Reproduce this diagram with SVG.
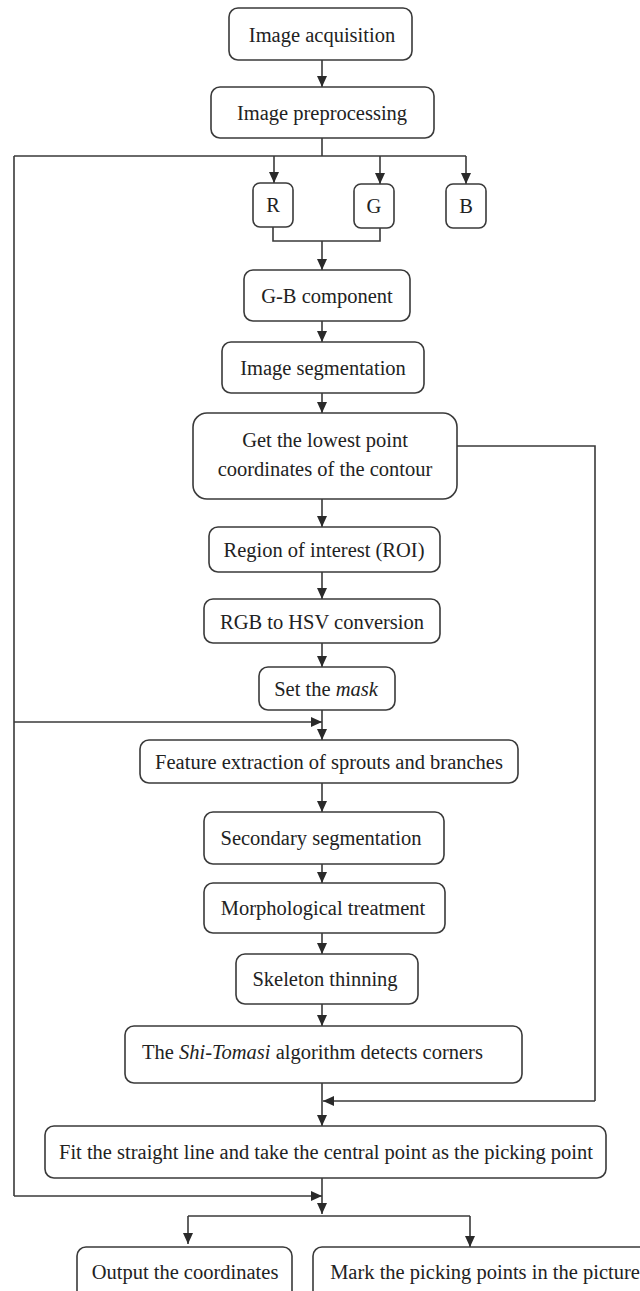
<svg xmlns="http://www.w3.org/2000/svg" width="640" height="1291" viewBox="0 0 640 1291">
<defs>
<marker id="ah" markerUnits="userSpaceOnUse" markerWidth="12" markerHeight="10" refX="11" refY="5" orient="auto">
<path d="M0,0 L11,5 L0,10 Z" fill="#2a2a2a"/>
</marker>
<style>
.box{fill:#fff;stroke:#3a3a3a;stroke-width:1.6}
.t{font-family:"Liberation Serif","Times New Roman",serif;font-size:20.5px;fill:#222;text-anchor:middle}
.c{fill:none;stroke:#3a3a3a;stroke-width:1.6}
.a{fill:none;stroke:#3a3a3a;stroke-width:1.6;marker-end:url(#ah)}
</style>
</defs>
<rect width="640" height="1291" fill="#fff"/>
<g id="connectors">
<path class="a" d="M322,60 V87"/>
<path class="c" d="M322,138 V156 M14,156 H466 M14,156 V1196"/>
<path class="a" d="M274,156 V183"/>
<path class="a" d="M380,156 V184"/>
<path class="a" d="M466,156 V184"/>
<path class="c" d="M273,227 V241 H380 V228"/>
<path class="a" d="M322,241 V270"/>
<path class="a" d="M322,321 V342"/>
<path class="a" d="M322,393 V413"/>
<path class="a" d="M322,499 V527"/>
<path class="a" d="M322,572 V599"/>
<path class="a" d="M322,643 V667"/>
<path class="a" d="M322,710 V740"/>
<path class="a" d="M14,722 H322"/>
<path class="a" d="M322,783 V812"/>
<path class="a" d="M322,864 V883"/>
<path class="a" d="M322,933 V954"/>
<path class="a" d="M322,1004 V1026"/>
<path class="c" d="M457,446 H595 V1101"/>
<path class="a" d="M595,1101 H323"/>
<path class="a" d="M322,1083 V1126"/>
<path class="a" d="M322,1178 V1214"/>
<path class="a" d="M14,1196 H322"/>
<path class="c" d="M188,1216 H470"/>
<path class="a" d="M188,1216 V1244"/>
<path class="a" d="M470,1216 V1247"/>
</g>
<g id="n1"><rect class="box" x="229" y="8" width="183" height="52" rx="9"/><text class="t" x="322" y="42">Image acquisition</text></g>
<g id="n2"><rect class="box" x="211" y="87" width="223" height="51" rx="9"/><text class="t" x="322" y="120">Image preprocessing</text></g>
<g id="nR"><rect class="box" x="253" y="183" width="40" height="44" rx="7"/><text class="t" x="273" y="212">R</text></g>
<g id="nG"><rect class="box" x="354" y="184" width="40" height="44" rx="7"/><text class="t" x="374" y="213">G</text></g>
<g id="nB"><rect class="box" x="446" y="184" width="40" height="44" rx="7"/><text class="t" x="466" y="213">B</text></g>
<g id="n3"><rect class="box" x="244" y="270" width="166" height="51" rx="9"/><text class="t" x="327" y="303">G-B component</text></g>
<g id="n4"><rect class="box" x="222" y="342" width="202" height="51" rx="9"/><text class="t" x="323" y="375">Image segmentation</text></g>
<g id="n5"><rect class="box" x="193" y="413" width="264" height="86" rx="14"/><text class="t" x="325" y="447">Get the lowest point</text><text class="t" x="325" y="476">coordinates of the contour</text></g>
<g id="n6"><rect class="box" x="209" y="527" width="231" height="45" rx="9"/><text class="t" x="324" y="557">Region of interest (ROI)</text></g>
<g id="n7"><rect class="box" x="204" y="599" width="236" height="44" rx="9"/><text class="t" x="322" y="629">RGB to HSV conversion</text></g>
<g id="n8"><rect class="box" x="259" y="667" width="136" height="43" rx="9"/><text class="t" x="326" y="696">Set the <tspan font-style="italic">mask</tspan></text></g>
<g id="n9"><rect class="box" x="140" y="740" width="378" height="43" rx="9"/><text class="t" x="329" y="769">Feature extraction of sprouts and branches</text></g>
<g id="n10"><rect class="box" x="204" y="812" width="240" height="52" rx="9"/><text class="t" x="321" y="845">Secondary segmentation</text></g>
<g id="n11"><rect class="box" x="204" y="883" width="241" height="50" rx="9"/><text class="t" x="323" y="915">Morphological treatment</text></g>
<g id="n12"><rect class="box" x="236" y="954" width="182" height="50" rx="9"/><text class="t" x="325" y="986">Skeleton thinning</text></g>
<g id="n13"><rect class="box" x="125" y="1026" width="397" height="57" rx="9"/><text class="t" x="142" y="1059" style="text-anchor:start">The <tspan font-style="italic">Shi-Tomasi</tspan> algorithm detects corners</text></g>
<g id="n14"><rect class="box" x="45" y="1126" width="561" height="52" rx="9"/><text class="t" x="326" y="1159">Fit the straight line and take the central point as the picking point</text></g>
<g id="n15"><rect class="box" x="77" y="1247" width="215" height="70" rx="9"/><text class="t" x="185" y="1279">Output the coordinates</text></g>
<g id="n16"><rect class="box" x="313" y="1247" width="360" height="70" rx="9"/><text class="t" x="485" y="1279">Mark the picking points in the picture</text></g>
</svg>
